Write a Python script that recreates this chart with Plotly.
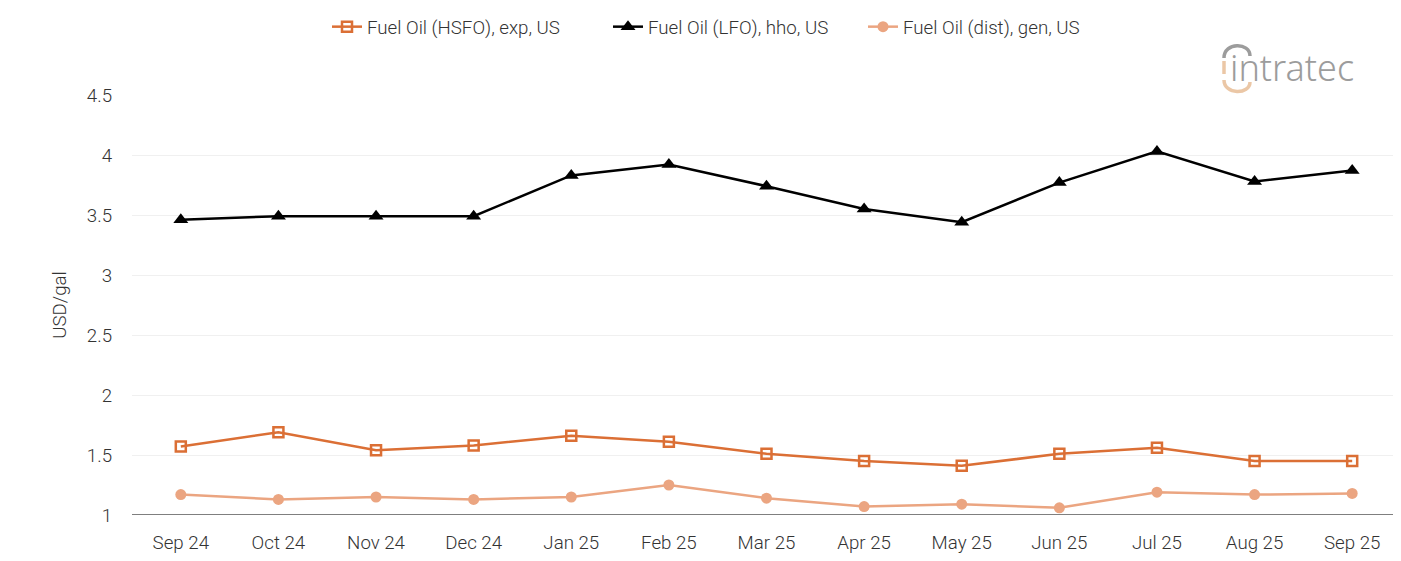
import plotly.graph_objects as go

months = ["Sep 24", "Oct 24", "Nov 24", "Dec 24", "Jan 25", "Feb 25", "Mar 25",
          "Apr 25", "May 25", "Jun 25", "Jul 25", "Aug 25", "Sep 25"]
hsfo = [1.57, 1.69, 1.54, 1.58, 1.66, 1.61, 1.51, 1.45, 1.41, 1.51, 1.56, 1.45, 1.45]
lfo = [3.46, 3.49, 3.49, 3.49, 3.83, 3.92, 3.74, 3.55, 3.44, 3.77, 4.03, 3.78, 3.87]
dist = [1.17, 1.13, 1.15, 1.13, 1.15, 1.25, 1.14, 1.07, 1.09, 1.06, 1.19, 1.17, 1.18]
y_ticks = [1, 1.5, 2, 2.5, 3, 3.5, 4, 4.5]
y_labels = ["1", "1.5", "2", "2.5", "3", "3.5", "4", "4.5"]

FONT = dict(family="Roboto", size=18.7, color="#333333", weight=300)

fig = go.Figure()
fig.add_trace(go.Scatter(
    x=months, y=hsfo, name="Fuel Oil (HSFO), exp, US", mode="lines+markers", legend="legend",
    line=dict(color="#DB6F35", width=2.5),
    marker=dict(symbol="square-open", size=10, color="#DB6F35", line=dict(width=2.5, color="#DB6F35")),
))
fig.add_trace(go.Scatter(
    x=months, y=lfo, name="Fuel Oil (LFO), hho, US", mode="lines+markers", legend="legend2",
    line=dict(color="#000000", width=2.5),
    marker=dict(symbol="triangle-up", size=13, color="#000000"),
))
fig.add_trace(go.Scatter(
    x=months, y=dist, name="Fuel Oil (dist), gen, US", mode="lines+markers", legend="legend3",
    line=dict(color="#EBA581", width=2.5),
    marker=dict(symbol="circle", size=11, color="#EBA581"),
))

# plot area in page pixels (page has 8px body margin)
L, R, T, B = 132, 1401, 95, 515
W, H = 1393, 553
def px(x):
    return (x - L) / (R - L)
def py(y):
    return (B - y) / (B - T)
def lx(text_start):
    return (text_start - 48) / W

def leg(x):
    return dict(orientation="h", x=x, xanchor="left", xref="container",
                y=1.0, yanchor="top", yref="container", font=FONT, itemwidth=30)

fig.update_layout(
    width=W, height=H,
    margin=dict(l=124, r=0, t=87, b=46),
    paper_bgcolor="white", plot_bgcolor="white",
    font=FONT,
    legend=leg(lx(367)), legend2=leg(lx(648)), legend3=leg(lx(903)),
    showlegend=True,
    xaxis=dict(type="category", range=[-0.5, 12.5], showgrid=False,
               showline=False, ticks="", ticklabelstandoff=14, tickfont=FONT),
    yaxis=dict(range=[1, 4.5], tickvals=y_ticks, ticktext=y_labels,
               showgrid=True, gridcolor="#F0F0F0", gridwidth=1, zeroline=False,
               showline=False, ticks="", ticklabelstandoff=19,
               title=dict(text="USD/gal", font=FONT, standoff=15),
               tickfont=FONT),
)

# bottom axis line
fig.add_shape(type="line", xref="paper", yref="y", x0=0, x1=1, y0=1, y1=1,
              line=dict(color="#555555", width=1.5))

# logo
fig.add_annotation(xref="paper", yref="paper", x=px(1228), y=py(67), xanchor="left", yanchor="middle",
                   text="intratec", showarrow=False,
                   font=dict(family="Noto Sans", size=36, color="#9C9C9C"))
fig.add_shape(type="path", xref="paper", yref="paper",
              path=f"M {px(1224)} {py(58)} C {px(1224)} {py(42)} {px(1250)} {py(42)} {px(1250)} {py(56)}",
              line=dict(color="#9C9C9C", width=3.5))
fig.add_shape(type="line", xref="paper", yref="paper",
              x0=px(1224), x1=px(1224), y0=py(61), y1=py(74),
              line=dict(color="#EBC7A6", width=3.5))
fig.add_shape(type="path", xref="paper", yref="paper",
              path=f"M {px(1224)} {py(80)} C {px(1224)} {py(95)} {px(1250)} {py(95)} {px(1250)} {py(82)}",
              line=dict(color="#EBC7A6", width=3.5))

fig.write_html("out.html")
